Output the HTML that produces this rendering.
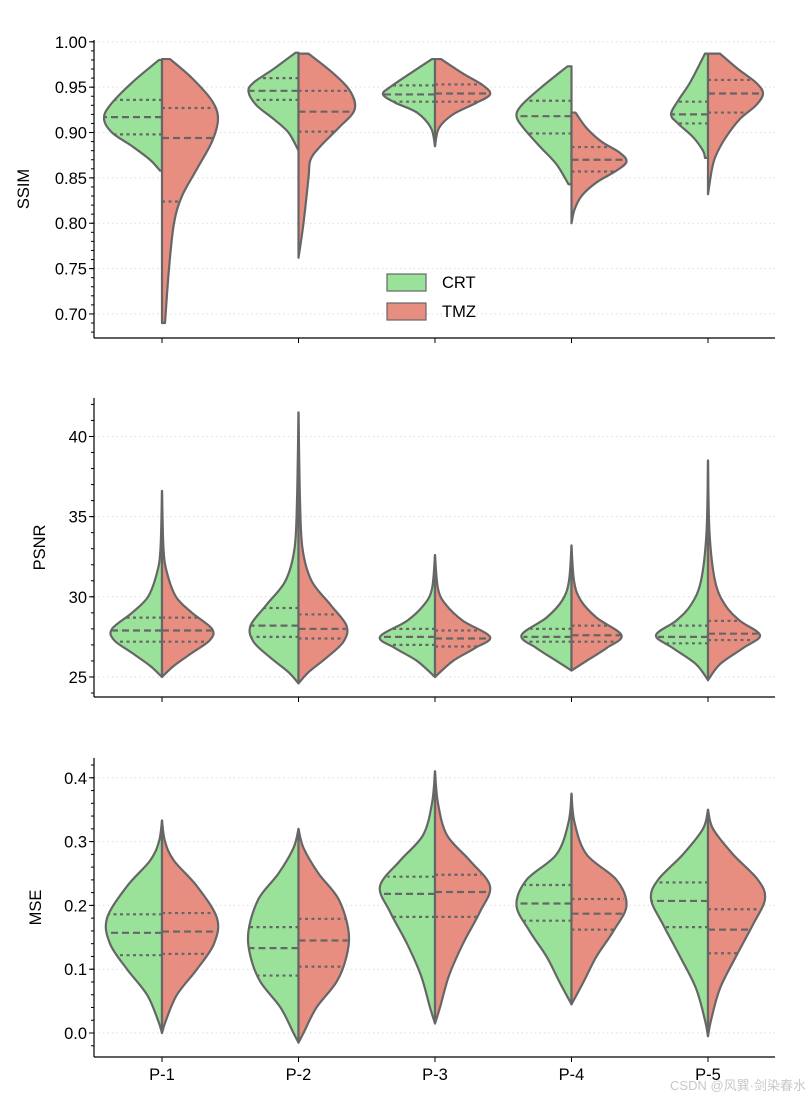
<!DOCTYPE html>
<html><head><meta charset="utf-8"><style>
body{margin:0;background:#fff;}
svg{display:block;font-family:"Liberation Sans",sans-serif;}
</style></head><body>
<svg id="chart" width="812" height="1101" viewBox="0 0 812 1101"></svg>
<script>
const categories=["P-1","P-2","P-3","P-4","P-5"];
const seriesNames=["CRT","TMZ"];
// profiles: [value, density-width]
const ssimCRT=[
 [[0.980,3],[0.955,30],[0.930,52],[0.915,58],[0.900,50],[0.885,30],[0.870,12],[0.858,2]],
 [[0.988,3],[0.970,25],[0.955,45],[0.945,50],[0.930,42],[0.915,25],[0.900,10],[0.880,0]],
 [[0.981,3],[0.965,25],[0.950,45],[0.942,52],[0.933,40],[0.922,18],[0.905,4],[0.885,0]],
 [[0.973,4],[0.950,30],[0.930,50],[0.918,55],[0.905,48],[0.885,32],[0.865,15],[0.843,3]],
 [[0.987,3],[0.955,18],[0.935,30],[0.920,37],[0.910,30],[0.895,15],[0.880,5],[0.872,3]]];
const ssimTMZ=[
 [[0.981,8],[0.960,30],[0.935,50],[0.915,56],[0.890,50],[0.860,35],[0.830,20],[0.800,12],[0.750,7],[0.690,3]],
 [[0.987,10],[0.965,35],[0.945,52],[0.925,56],[0.905,40],[0.885,22],[0.870,12],[0.850,10],[0.800,5],[0.762,0]],
 [[0.981,6],[0.965,28],[0.952,48],[0.942,55],[0.932,40],[0.920,18],[0.905,4],[0.885,0]],
 [[0.922,4],[0.905,15],[0.890,30],[0.878,48],[0.868,55],[0.858,45],[0.845,25],[0.830,10],[0.815,3],[0.800,0]],
 [[0.987,12],[0.970,30],[0.955,48],[0.943,55],[0.930,48],[0.915,32],[0.895,18],[0.875,8],[0.860,4],[0.832,0]]];
const ssimQ=[[[0.898,0.917,0.936],[0.824,0.894,0.927]],[[0.936,0.946,0.960],[0.901,0.923,0.946]],[[0.934,0.942,0.952],[0.934,0.943,0.953]],[[0.899,0.918,0.935],[0.857,0.870,0.884]],[[0.910,0.920,0.934],[0.922,0.943,0.958]]];
const psnrProf=[
 [[36.6,0],[33,1.5],[31.5,5],[30,14],[29,30],[28,50],[27.3,48],[26.5,30],[25.7,12],[25,0]],
 [[41.5,0],[36,1.5],[33,4],[31,13],[29.5,32],[28.2,48],[27.2,45],[26.2,28],[25.3,10],[24.6,0]],
 [[32.6,0],[30.5,3],[29.5,11],[28.5,28],[27.5,55],[26.8,40],[26,18],[25,0]],
 [[33.2,0],[31,2.5],[29.8,9],[28.7,25],[27.6,50],[26.8,35],[26,15],[25.4,0]],
 [[38.5,0],[34,1.5],[31,7],[29.5,17],[28.5,32],[27.6,52],[26.8,35],[25.8,12],[24.8,0]]];
const psnrQ=[[[27.2,27.9,28.7],[27.2,27.9,28.7]],[[27.5,28.2,29.3],[27.4,28.0,28.9]],[[27.0,27.5,28.0],[26.9,27.4,27.9]],[[27.2,27.5,28.0],[27.2,27.6,28.2]],[[27.1,27.5,28.2],[27.3,27.7,28.5]]];
const mseProf=[
 [[0.333,0],[0.30,3],[0.27,12],[0.23,35],[0.18,55],[0.14,52],[0.10,35],[0.06,15],[0.02,4],[0.0,0]],
 [[0.320,0],[0.29,5],[0.25,20],[0.21,40],[0.16,50],[0.12,48],[0.08,38],[0.04,18],[0.0,5],[-0.015,0]],
 [[0.410,0],[0.36,3],[0.31,12],[0.27,35],[0.23,55],[0.19,45],[0.14,28],[0.09,14],[0.04,5],[0.015,0]],
 [[0.375,0],[0.33,3],[0.28,15],[0.24,45],[0.20,55],[0.16,42],[0.12,25],[0.08,12],[0.045,0]],
 [[0.350,0],[0.32,5],[0.28,25],[0.24,50],[0.21,57],[0.17,45],[0.12,28],[0.07,12],[0.02,3],[-0.005,0]]];
const mseQ=[[[0.122,0.157,0.186],[0.124,0.159,0.188]],[[0.090,0.133,0.166],[0.104,0.145,0.179]],[[0.182,0.218,0.245],[0.182,0.221,0.248]],[[0.176,0.203,0.232],[0.162,0.187,0.210]],[[0.166,0.207,0.236],[0.125,0.162,0.194]]];
const ssimTicks=[0.70,0.75,0.80,0.85,0.90,0.95,1.00];
const psnrTicks=[25,30,35,40];
const mseTicks=[0.0,0.1,0.2,0.3,0.4];

const svg=document.getElementById('chart');
const NS='http://www.w3.org/2000/svg';
function mk(t,a,p){const e=document.createElementNS(NS,t);for(const k in a)e.setAttribute(k,a[k]);(p||svg).appendChild(e);return e;}
const X0=94,X1=775;
function xs(i){return 162+i*136.5;}
const colors=["#9ae299","#e88e80"];
function smooth(pts){let d='M'+pts[0][0]+','+pts[0][1];for(let i=0;i<pts.length-1;i++){const p0=pts[Math.max(0,i-1)],p1=pts[i],p2=pts[i+1],p3=pts[Math.min(pts.length-1,i+2)];const c1=[p1[0]+(p2[0]-p0[0])/6,p1[1]+(p2[1]-p0[1])/6],c2=[p2[0]-(p3[0]-p1[0])/6,p2[1]-(p3[1]-p1[1])/6];d+=' C'+c1[0]+','+c1[1]+' '+c2[0]+','+c2[1]+' '+p2[0]+','+p2[1];}return d;}
function interpW(prof,v){for(let i=0;i<prof.length-1;i++){const a=prof[i],b=prof[i+1];if(v<=a[0]&&v>=b[0]){const t=(a[0]-v)/(a[0]-b[0]);return a[1]+(b[1]-a[1])*t;}}return 0;}
function panel(name,top,bot,vmin,vmax,ticks,minorStep,fmt,label,profL,profR,Q,showX){
  const g=mk('g',{});
  
  
  const ys=v=>bot-(v-vmin)/(vmax-vmin)*(bot-top);
  ticks.forEach(t=>{
    const gl=mk('line',{x1:X0,x2:X1,y1:ys(t),y2:ys(t),stroke:'#ddd','stroke-dasharray':'1.5,3','stroke-width':1},g);
    
    mk('line',{x1:X0-5,x2:X0,y1:ys(t),y2:ys(t),stroke:'#000','stroke-width':1},g);
    const tx=mk('text',{x:X0-7,y:ys(t)+6,'text-anchor':'end','font-size':16.5},g);tx.textContent=fmt(t);
    
  });
  for(let v=Math.ceil(vmin/minorStep)*minorStep;v<=vmax+1e-9;v+=minorStep){mk('line',{x1:X0-3,x2:X0,y1:ys(v),y2:ys(v),stroke:'#000','stroke-width':1},g);}
  const yl=mk('text',{x:0,y:0,transform:`translate(${label.x},${(top+bot)/2}) rotate(-90)`,'text-anchor':'middle','font-size':16.5},g);yl.textContent=label.t;
  
  categories.forEach((c,i)=>{
    const cx=xs(i);
    [profL[i],profR[i]].forEach((prof,s)=>{
      const sg=s?1:-1;
      const pts=prof.map(p=>[cx+sg*p[1],ys(p[0])]);
      const d='M'+cx+','+ys(prof[0][0])+' L'+smooth(pts).slice(1)+' L'+cx+','+ys(prof[prof.length-1][0])+' Z';
      const v=mk('path',{d:d,fill:colors[s],stroke:'#666','stroke-width':2.2,'stroke-linejoin':'round'},g);
      
      
      Q[i][s].forEach((q,k)=>{
        const w=interpW(prof,q);
        const ql=mk('line',{x1:cx,x2:cx+sg*w,y1:ys(q),y2:ys(q),stroke:'#666','stroke-width':2.2,'stroke-dasharray':k==1?'7,4':'3,3.5'},g);
        
      });
    });
    mk('line',{x1:cx,x2:cx,y1:bot,y2:bot+5,stroke:'#000','stroke-width':1},g);
    if(showX){const t=mk('text',{x:cx,y:bot+23,'text-anchor':'middle','font-size':16.5},g);t.textContent=c;
      }
  });
  mk('line',{x1:X0,x2:X0,y1:top,y2:bot,stroke:'#000','stroke-width':1.2},g);
  mk('line',{x1:X0,x2:X1,y1:bot,y2:bot,stroke:'#000','stroke-width':1.2},g);
}
panel('ssim',40,338,0.6735,1.002,ssimTicks,0.01,v=>v.toFixed(2),{x:29,t:'SSIM'},ssimCRT,ssimTMZ,ssimQ,false);
panel('psnr',398,697,23.75,42.4,psnrTicks,1,v=>String(v),{x:45,t:'PSNR'},psnrProf,psnrProf,psnrQ,false);
panel('mse',758,1057,-0.0376,0.431,mseTicks,0.02,v=>v.toFixed(1),{x:41,t:'MSE'},mseProf,mseProf,mseQ,true);
// legend
seriesNames.forEach((n,i)=>{
  const y=274+i*29;
  const r=mk('rect',{x:387,y:y,width:39,height:17,fill:colors[i],stroke:'#666','stroke-width':1.2});
  
  const t=mk('text',{x:442,y:y+14,'font-size':16.5});t.textContent=n;
  
});
const wm=mk('text',{x:806,y:1090,'text-anchor':'end','font-size':13,fill:'#c8c8c8','font-family':'"Liberation Sans","Noto Sans CJK SC",sans-serif'});
wm.textContent='CSDN @风巽·剑染春水';

</script>
</body></html>
